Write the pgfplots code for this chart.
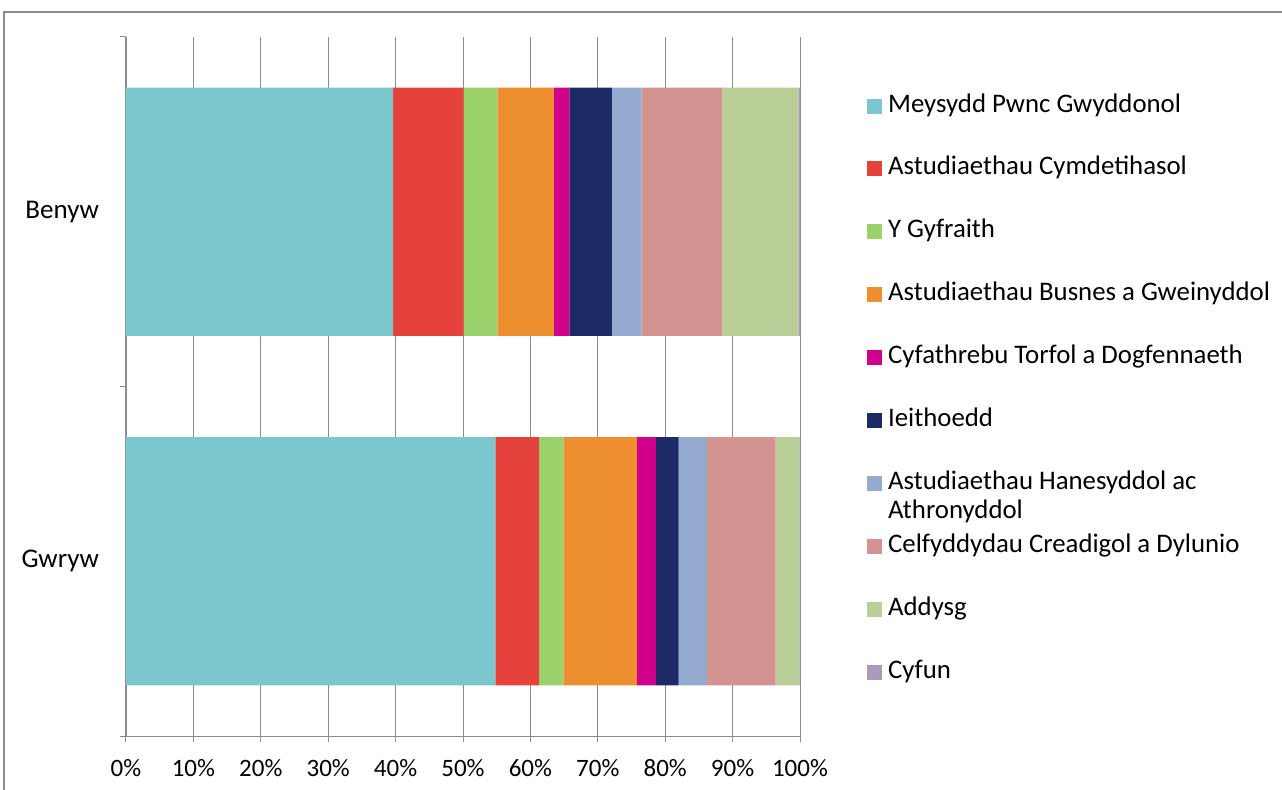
\documentclass[border=0pt]{standalone}
\usepackage{fontspec}
\setmainfont{Carlito}
\usepackage{pgfplots}
\usepackage{pgfplotstable}
\pgfplotsset{compat=1.18}

\definecolor{cMeysydd}{HTML}{7AC8CE}
\definecolor{cCymd}{HTML}{E6423C}
\definecolor{cGyfr}{HTML}{9BD16A}
\definecolor{cBusnes}{HTML}{ED8F31}
\definecolor{cCyfath}{HTML}{D0008A}
\definecolor{cIeith}{HTML}{1E2A66}
\definecolor{cHanes}{HTML}{95AACF}
\definecolor{cCelf}{HTML}{D39391}
\definecolor{cAddysg}{HTML}{BACE97}
\definecolor{cCyfun}{HTML}{A89BBF}
\definecolor{gridgray}{HTML}{8C8C8C}

% y: 1 = Benyw, 0 = Gwryw ; values in %
\pgfplotstableread{
y  mey   cym  gyf  bus   cyf  iei  han  cel   add   cfn
1  39.6  10.5 5.0  8.4   2.3  6.3  4.4  12.0  11.25 0.25
0  54.8  6.5  3.6  10.9  2.8  3.4  4.2  10.2  3.5   0.1
}\datatable

\begin{document}
\begin{tikzpicture}
\useasboundingbox (0,0) rectangle (641pt,394.5pt);
% outer chart frame
\draw[gridgray, line width=0.75pt] (2pt,-2pt) -- (2pt,388.5pt) -- (645pt,388.5pt);
\begin{axis}[
  at={(63pt,26.5pt)}, anchor=south west,
  scale only axis, width=337pt, height=349.5pt,
  xbar stacked, bar width=0.71,
  xmin=0, xmax=100, ymin=-0.5, ymax=1.5,
  axis lines=left, axis line style={gridgray, -},
  xtick={0,10,...,100},
  xticklabels={0\%,10\%,20\%,30\%,40\%,50\%,60\%,70\%,80\%,90\%,100\%},
  ytick={0,1}, yticklabels={Gwryw,Benyw},
  minor ytick={-0.5,0.5,1.5},
  tick align=outside,
  major tick length=3pt, minor tick length=3pt,
  y tick style={draw=none},
  minor y tick style={draw=gridgray, line width=0.5pt},
  x tick style={draw=gridgray, line width=0.5pt},
  xmajorgrids, grid style={gridgray, line width=0.5pt},
  x tick label style={font=\fontsize{12.5}{14}\selectfont, yshift=-5pt},
  y tick label style={font=\fontsize{13.5}{15}\selectfont, xshift=-7pt},
  legend image code/.code={\fill[#1] (0pt,-3.75pt) rectangle (7.5pt,3.75pt);},
  legend style={draw=none, fill=none, at={(1.099,0.919)}, anchor=north west,
    inner sep=0pt, row sep=19.45pt, column sep=3pt,
    nodes={inner sep=0pt, text height=9pt, text depth=3pt},
    font=\fontsize{13.4}{15}\selectfont},
  legend cell align=left,
]
\addplot[fill=cMeysydd, draw=none] table[x=mey, y=y] {\datatable};
\addplot[fill=cCymd, draw=none] table[x=cym, y=y] {\datatable};
\addplot[fill=cGyfr, draw=none] table[x=gyf, y=y] {\datatable};
\addplot[fill=cBusnes, draw=none] table[x=bus, y=y] {\datatable};
\addplot[fill=cCyfath, draw=none] table[x=cyf, y=y] {\datatable};
\addplot[fill=cIeith, draw=none] table[x=iei, y=y] {\datatable};
\addplot[fill=cHanes, draw=none] table[x=han, y=y] {\datatable};
\addplot[fill=cCelf, draw=none] table[x=cel, y=y] {\datatable};
\addplot[fill=cAddysg, draw=none] table[x=add, y=y] {\datatable};
\addplot[fill=cCyfun, draw=none] table[x=cfn, y=y] {\datatable};
\legend{Meysydd Pwnc Gwyddonol,
  Astudiaethau Cymdetihasol,
  Y Gyfraith,
  Astudiaethau Busnes a Gweinyddol,
  Cyfathrebu Torfol a Dogfennaeth,
  Ieithoedd,
  \smash{\rlap{\raisebox{-14.5pt}{Athronyddol}}}Astudiaethau Hanesyddol ac,
  Celfyddydau Creadigol a Dylunio,
  Addysg,
  Cyfun}
\end{axis}
\end{tikzpicture}
\end{document}
